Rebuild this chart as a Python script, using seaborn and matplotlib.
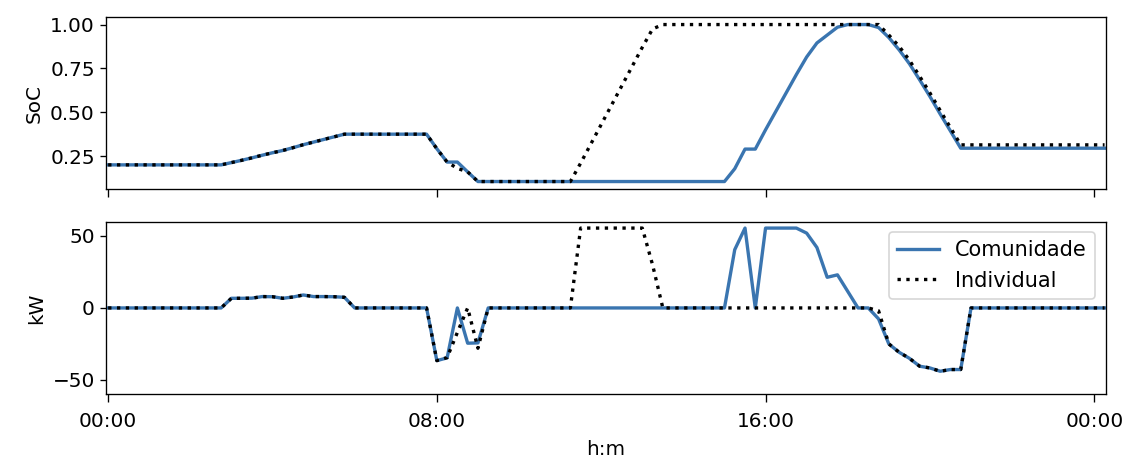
import numpy as np
import pandas as pd
import matplotlib
matplotlib.use("Agg")
import matplotlib.pyplot as plt
import seaborn as sns

# 15-minute steps (98 samples), x in hours
steps = np.arange(98)
hours = steps * 0.25

soc_comunidade = (
    [0.2] * 12
    + [0.213, 0.226, 0.240, 0.255, 0.269, 0.282, 0.298, 0.315, 0.330, 0.345, 0.360, 0.375]
    + [0.375] * 8
    + [0.292, 0.216, 0.216, 0.160, 0.105]
    + [0.105] * 24
    + [0.178, 0.29, 0.29, 0.40, 0.505, 0.61, 0.715, 0.815, 0.895, 0.94, 0.985, 1.0,
       1.0, 1.0, 0.983, 0.926, 0.856, 0.777, 0.685, 0.59, 0.49, 0.393, 0.295]
    + [0.295] * 14
)

soc_individual = (
    [0.2] * 12
    + [0.213, 0.226, 0.240, 0.255, 0.269, 0.282, 0.298, 0.315, 0.330, 0.345, 0.360, 0.375]
    + [0.375] * 8
    + [0.292, 0.216, 0.18, 0.16, 0.105]
    + [0.105] * 9
    + [0.21, 0.32, 0.43, 0.54, 0.65, 0.76, 0.87, 0.975]
    + [1.0] * 22
    + [0.94, 0.876, 0.797, 0.705, 0.61, 0.51, 0.412, 0.314]
    + [0.314] * 14
)

kw_comunidade = (
    [0.0] * 12
    + [6.7, 6.7, 6.8, 7.9, 7.8, 6.7, 7.6, 9.0, 7.9, 7.9, 7.8, 7.4]
    + [0.0] * 8
    + [-36.6, -34.7, 0.0, -24.5, -24.3]
    + [0.0] * 24
    + [40.5, 55.5, 0.0, 55.5, 55.5, 55.5, 55.5, 52.0, 42.0, 21.3, 23.0, 11.5]
    + [0.0] * 2
    + [-7.6, -25.0, -30.8, -35.0, -40.5, -41.7, -44.0, -42.8, -42.8]
    + [0.0] * 14
)

kw_individual = (
    [0.0] * 12
    + [6.7, 6.7, 6.8, 7.9, 7.8, 6.7, 7.6, 9.0, 7.9, 7.9, 7.8, 7.4]
    + [0.0] * 8
    + [-36.6, -34.5, -17.0, 0.0, -28.0]
    + [0.0] * 9
    + [55.5] * 7
    + [30.0]
    + [0.0] * 21
    + [-2.0, -25.0, -30.8, -35.0, -40.5, -41.7, -44.0, -42.8, -42.8]
    + [0.0] * 14
)

tick_hours = [0, 8, 16, 24]
tick_labels = ["00:00", "08:00", "16:00", "00:00"]

df = pd.DataFrame({
    "h": hours,
    "soc_c": soc_comunidade,
    "soc_i": soc_individual,
    "kw_c": kw_comunidade,
    "kw_i": kw_individual,
})

plt.style.use("default")
plt.rcParams["font.family"] = ["DejaVu Sans"]

blue = "#3a75b0"

fig, (ax1, ax2) = plt.subplots(2, 1, sharex=True, figsize=(9.4, 3.825), dpi=120)
fig.subplots_adjust(left=0.0944, right=0.9803, bottom=0.141, top=0.9636, hspace=0.1866)

sns.lineplot(data=df, x="h", y="soc_c", ax=ax1, color=blue, linewidth=2, legend=False)
sns.lineplot(data=df, x="h", y="soc_i", ax=ax1, color="black", linestyle=":", linewidth=2, legend=False)
ax1.set_ylabel("SoC", fontsize=12)
ax1.set_xlabel("")
ax1.set_yticks([0.25, 0.50, 0.75, 1.00])

sns.lineplot(data=df, x="h", y="kw_c", ax=ax2, color=blue, linewidth=2, label="Comunidade")
sns.lineplot(data=df, x="h", y="kw_i", ax=ax2, color="black", linestyle=":", linewidth=2, label="Individual")
ax2.set_ylim(-60, 60)
ax2.set_yticks([-50, 0, 50])
ax2.set_ylabel("kW", fontsize=12)
ax2.set_xlabel("h:m", fontsize=12, labelpad=5.5)
ax2.legend(loc="upper right", fontsize=12.5)

ax2.set_xlim(-0.04, 24.28)
ax2.set_xticks(tick_hours)
ax2.set_xticklabels(tick_labels)

for ax in (ax1, ax2):
    ax.tick_params(labelsize=12)
    ax.tick_params(axis="x", length=4.5, pad=6)

fig.savefig("out.png", dpi=120)
